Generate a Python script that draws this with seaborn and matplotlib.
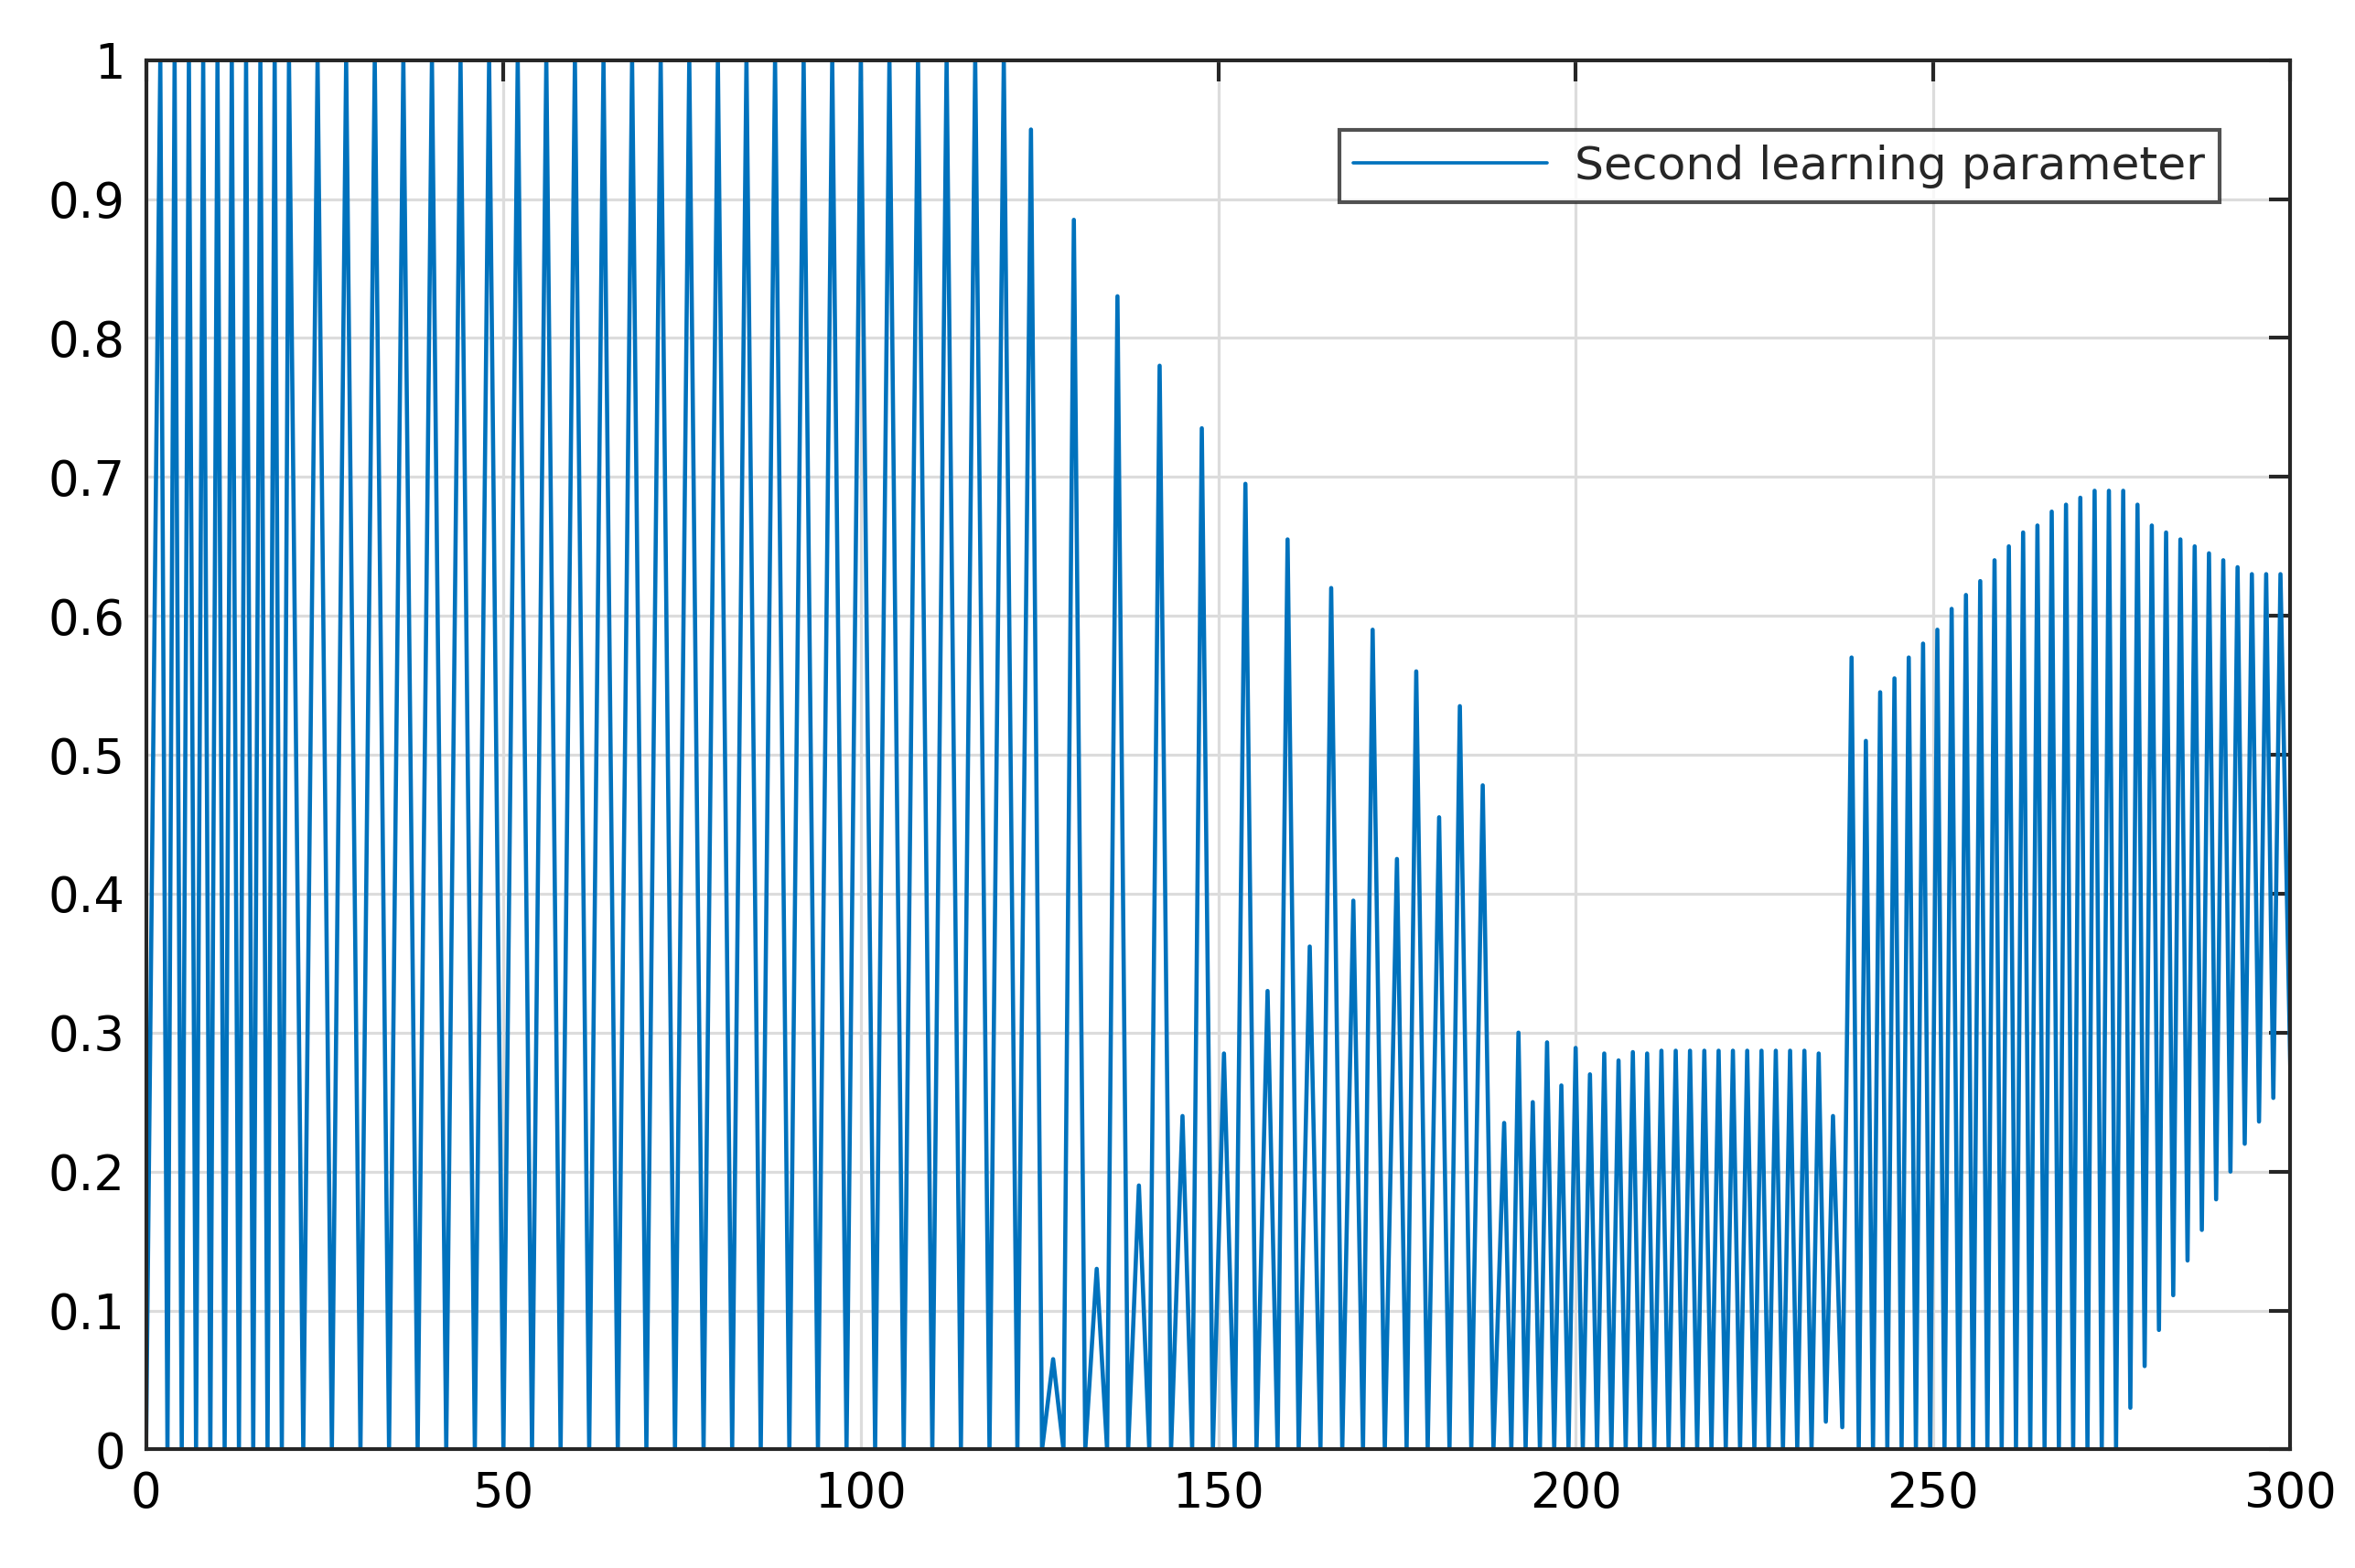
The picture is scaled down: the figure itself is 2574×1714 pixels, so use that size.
import numpy as np
import pandas as pd
import matplotlib
matplotlib.use("Agg")
import matplotlib.pyplot as plt
import seaborn as sns

# ---- data: peaks (x, y) and the troughs following each peak ----
# region A: saturated oscillation
a_peak_x = list(range(2, 21, 2)) + list(range(24, 121, 4))
a_peak_y = [1.0] * len(a_peak_x)
a_trough_y = [0.0] * len(a_peak_x)

# region B: alternating large / small peaks
b_peak_x = [123.8, 126.9, 129.8, 133.0, 135.9, 138.9, 141.8, 145.0, 147.7, 150.8,
            153.8, 156.9, 159.7, 162.8, 165.8, 168.9, 171.6, 175.0, 177.7, 180.9,
            183.8, 187.0]
b_peak_y = [0.95, 0.065, 0.885, 0.13, 0.83, 0.19, 0.78, 0.24, 0.735, 0.285,
            0.695, 0.33, 0.655, 0.362, 0.62, 0.395, 0.59, 0.425, 0.56, 0.455,
            0.535, 0.478]
b_trough_y = [0.0] * len(b_peak_x)

# region C: low plateau
c_peak_x = list(range(190, 237, 2))
c_peak_y = [0.235, 0.30, 0.25, 0.293, 0.262, 0.289, 0.27, 0.285, 0.28, 0.286,
            0.285, 0.287, 0.287, 0.287, 0.287, 0.287, 0.287, 0.287, 0.287, 0.287,
            0.287, 0.287, 0.285, 0.24]
c_trough_y = [0.0] * 22 + [0.02, 0.016]

# region D: rising envelope
d_peak_x = list(np.arange(238.6, 299.5, 2.0))
d_peak_y = [0.57, 0.51, 0.545, 0.555, 0.57, 0.58, 0.59, 0.605, 0.615, 0.625,
            0.64, 0.65, 0.66, 0.665, 0.675, 0.68, 0.685, 0.69, 0.69, 0.69,
            0.68, 0.665, 0.66, 0.655, 0.65, 0.645, 0.64, 0.635, 0.63, 0.63, 0.63]
d_trough_y = [0.0] * 19 + [0.03, 0.06, 0.086, 0.111, 0.136, 0.158, 0.18, 0.2,
                           0.22, 0.236, 0.253, 0.27]

start_x, start_y = 0.0, 0.0
end_x, end_y = 300.0, 0.27

# ---- build the polyline ----
px = np.array(a_peak_x + b_peak_x + c_peak_x + d_peak_x, dtype=float)
py = np.array(a_peak_y + b_peak_y + c_peak_y + d_peak_y, dtype=float)
ty = np.array(a_trough_y + b_trough_y + c_trough_y + d_trough_y, dtype=float)
xs, ys = [start_x], [start_y]
for i in range(len(px)):
    xs.append(px[i]); ys.append(py[i])
    if i < len(px) - 1:
        xs.append((px[i] + px[i + 1]) / 2); ys.append(ty[i])
xs.append(end_x); ys.append(end_y)
df = pd.DataFrame({"k": xs, "v": ys, "s": "Second learning parameter"})

sns.set_theme(style="white")
plt.rcParams['font.family'] = ['DejaVu Sans']

fig = plt.figure(figsize=(15.6, 10.388), dpi=165)
ax = fig.add_axes([0.062, 0.0756, 0.9106, 0.8861])
sns.lineplot(data=df, x="k", y="v", hue="s", palette=["#0072BD"], estimator=None,
             sort=False, linewidth=2.0, ax=ax)
ax.set_xlim(0, 300)
ax.set_ylim(0, 1)
ax.set_xticks(range(0, 301, 50))
ax.set_yticks(np.round(np.arange(0, 1.01, 0.1), 1))
ax.set_yticklabels(["0", "0.1", "0.2", "0.3", "0.4", "0.5", "0.6", "0.7", "0.8", "0.9", "1"])
ax.grid(True, color="#dcdcdc", linewidth=1.4)
ax.set_xlabel(""); ax.set_ylabel("")
for sp in ax.spines.values():
    sp.set_visible(True); sp.set_color("#262626"); sp.set_linewidth(1.8)
ax.tick_params(direction="in", length=10, width=1.8, colors="#262626",
               labelsize=23, top=True, right=True, pad=10)
for lab in ax.get_xticklabels() + ax.get_yticklabels():
    lab.set_color("black")
leg = ax.legend(loc="upper right", bbox_to_anchor=(0.9775, 0.966), fontsize=22,
                frameon=True, fancybox=False, handlelength=4.2, borderpad=0.3,
                handletextpad=0.6)
leg.get_frame().set_edgecolor("#262626")
leg.get_frame().set_linewidth(1.8)
for line in leg.get_lines():
    line.set_linewidth(1.6)
fig.savefig("out.png", dpi=165, facecolor="white")
